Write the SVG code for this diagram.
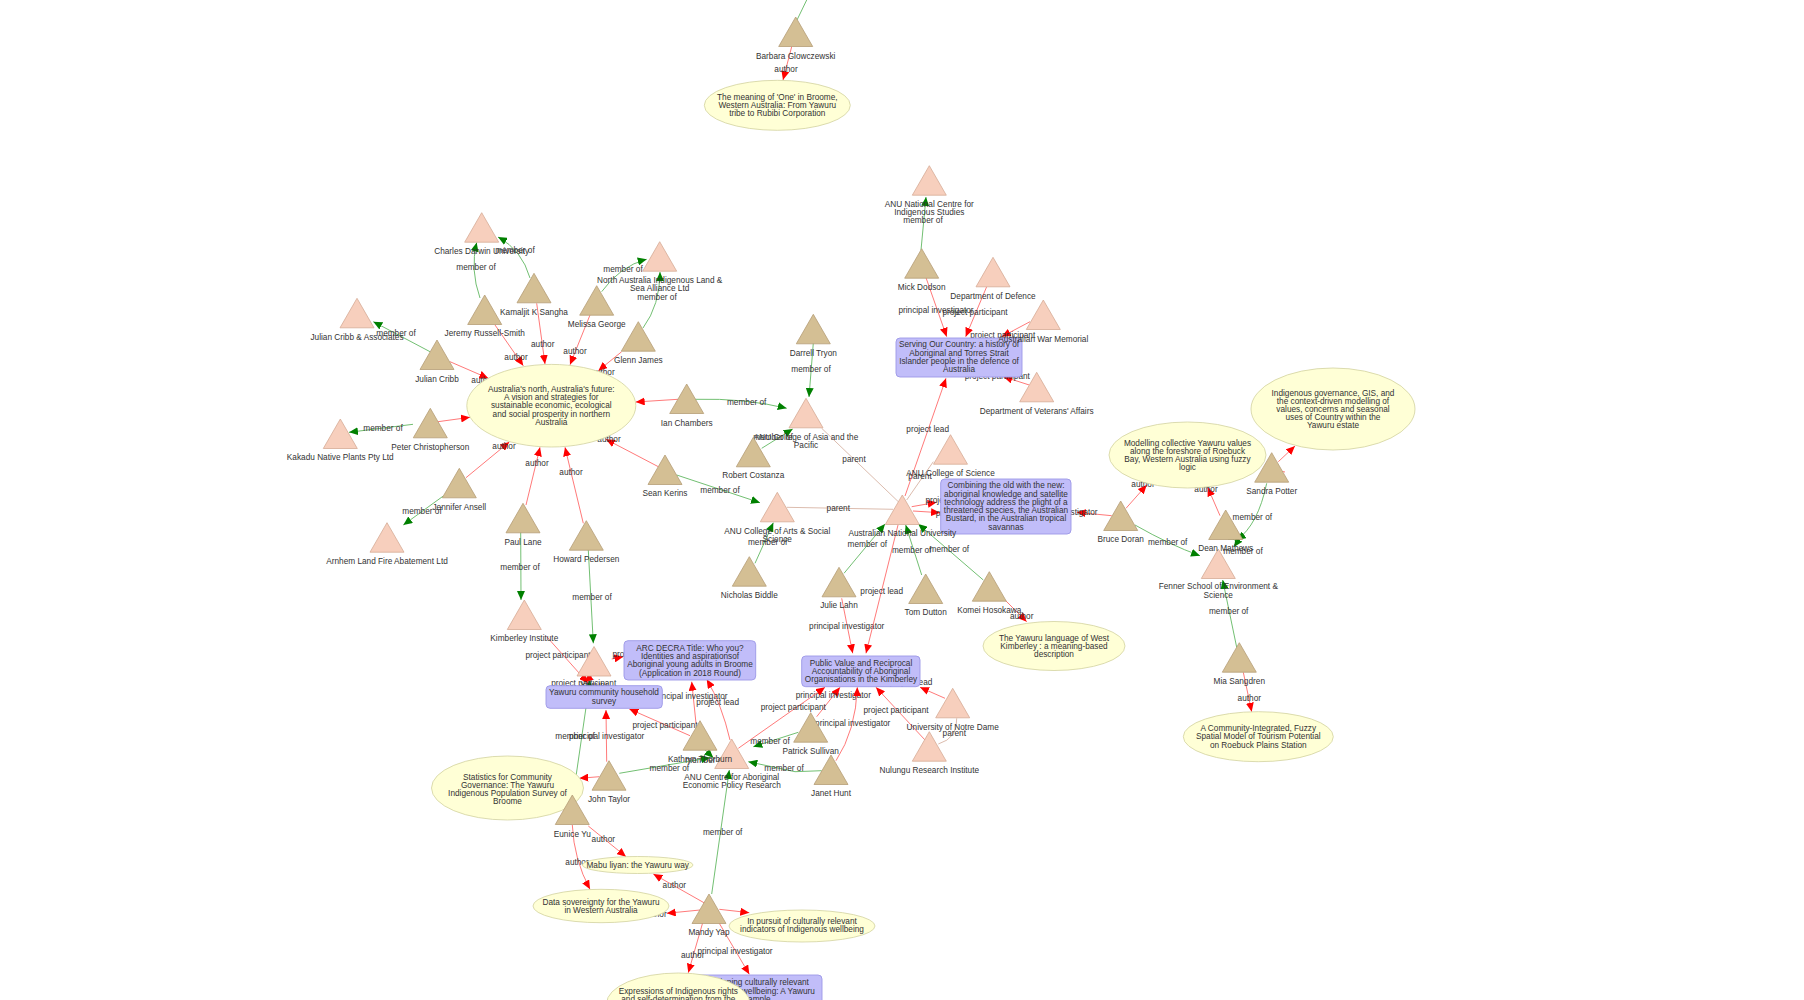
<svg xmlns="http://www.w3.org/2000/svg" xmlns:xlink="http://www.w3.org/1999/xlink" width="1804" height="1000" viewBox="0 0 1804 1000">
<style>
text{font-family:"Liberation Sans",Arial,sans-serif;font-size:8.25px;fill:#333;text-anchor:middle}
.r{fill:none;stroke:#ff6a6a;stroke-width:0.9;marker-end:url(#ar)}
.g{fill:none;stroke:#62b862;stroke-width:0.9;marker-end:url(#ag)}
.gn{fill:none;stroke:#62b862;stroke-width:0.9}
.pa{fill:none;stroke:#dcbcae;stroke-width:1}
.p{fill:#d4bf94;stroke:#b59d76;stroke-width:0.8}
.o{fill:#f7cfbd;stroke:#d6ab96;stroke-width:0.8}
.pub{fill:#ffffd6;stroke:#d2d2a0;stroke-width:0.8}
.prj{fill:#c1bdf9;stroke:#9c97e6;stroke-width:0.9}
</style>
<defs>
<polygon id="tri" points="0,0 -17,29.5 17,29.5"/>
<marker id="ar" markerWidth="10" markerHeight="8" refX="9" refY="4" orient="auto" markerUnits="userSpaceOnUse"><path d="M0,0 L9,4 L0,8 z" fill="#ff0000"/></marker>
<marker id="ag" markerWidth="10" markerHeight="8" refX="9" refY="4" orient="auto" markerUnits="userSpaceOnUse"><path d="M0,0 L9,4 L0,8 z" fill="#008000"/></marker>
</defs>
<rect width="1804" height="1000" fill="#fff"/>

<g id="connectors">
<!-- member of -->
<path class="gn" d="M797,20 L806.7,0"/>
<path class="g" d="M921,250 L926,197"/><text x="923" y="223">member of</text>
<path class="g" d="M813.3,343 L809,397"/><text x="811" y="372">member of</text>
<path class="g" d="M480,298 Q470,270 476.7,242.5"/><text x="476" y="270">member of</text>
<path class="g" d="M530,278 Q522,250 498,237"/><text x="515" y="253">member of</text>
<path class="g" d="M601.7,291.7 Q620,266 646.7,259.3"/><text x="623" y="272">member of</text>
<path class="g" d="M643,328 Q660,305 660,272"/><text x="657" y="300">member of</text>
<path class="g" d="M430,351.7 L373.3,321.7"/><text x="396" y="336">member of</text>
<path class="g" d="M413,424.3 L349,432.3"/><text x="383" y="431">member of</text>
<path class="g" d="M443.3,496 L403.3,525"/><text x="422" y="514">member of</text>
<path class="g" d="M520.7,532 L521,600"/><text x="520" y="570">member of</text>
<path class="g" d="M588.3,550 L593.3,643.3"/><text x="592" y="600">member of</text>
<path class="g" d="M695,399.3 Q745,398 786.7,408.3"/><text x="746.7" y="405">member of</text>
<path class="g" d="M761.7,448.3 L792.7,429"/><text x="773" y="440">member of</text>
<path class="g" d="M676.7,475 L760,502.7"/><text x="720" y="493">member of</text>
<path class="g" d="M755,563.3 L773.3,522.7"/><text x="767.7" y="545">member of</text>
<path class="g" d="M844,573.3 L885,524"/><text x="867.3" y="547">member of</text>
<path class="g" d="M921.7,575 L905.7,525"/><text x="911.7" y="553">member of</text>
<path class="g" d="M983.3,580 L918.3,524"/><text x="949.3" y="552">member of</text>
<path class="g" d="M1135,525 Q1170,545 1200,555.7"/><text x="1167.7" y="545">member of</text>
<path class="g" d="M1228,539 Q1240,538 1234,547"/><text x="1243" y="554">member of</text>
<path class="g" d="M1266.7,483.3 Q1258,525 1236.7,540"/><text x="1252.3" y="519.5">member of</text>
<path class="g" d="M1236.7,647.3 L1222.7,580"/><text x="1228.7" y="614">member of</text>
<path class="g" d="M573,797 L590,680"/><text x="575" y="738.5">member of</text>
<path class="g" d="M705,750 L713.3,757.7"/><text x="705" y="763">member of</text>
<path class="g" d="M619.3,773.3 L710,757.7"/><text x="669.3" y="771">member of</text>
<path class="g" d="M798.3,732.3 L753.3,746.7"/><text x="770" y="744">member of</text>
<path class="g" d="M821.7,770.7 L795,771.7 L748.3,761.7"/><text x="784" y="771">member of</text>
<path class="g" d="M711.7,894 L729.3,770"/><text x="722.7" y="834.5">member of</text>
<!-- parent -->
<path class="pa" d="M821.7,428.3 L898.3,501.7"/><text x="854" y="462">parent</text>
<path class="pa" d="M786.7,507.3 L893.3,509.3"/><text x="838.3" y="511">parent</text>
<path class="pa" d="M933.3,461.7 L906.7,500"/><text x="920" y="478.5">parent</text>
<path class="pa" d="M938.3,744 Q958,738 956.7,718.3"/><text x="954.3" y="735.5">parent</text>
<!-- author / project -->
<path class="r" d="M791.7,46.7 L783,80"/><text x="786" y="72">author</text>
<path class="r" d="M926,277.7 L946.7,336.7"/><text x="936" y="313">principal investigator</text>
<path class="r" d="M986.7,286.7 L965.7,336.7"/><text x="975" y="315">project participant</text>
<path class="r" d="M1030,321.7 L1001.7,336.7"/><text x="1002.7" y="338">project participant</text>
<path class="r" d="M1029.3,385 L1003.3,376.7"/><text x="997.3" y="378.5">project participant</text>
<path class="r" d="M905,496 L946,378.3"/><text x="927.7" y="432">project lead</text>
<path class="r" d="M495,325 L523.3,365.7"/><text x="516" y="360">author</text>
<path class="r" d="M536.7,303.3 L545,364"/><text x="542.7" y="347">author</text>
<path class="r" d="M590,315 L570,364.7"/><text x="575" y="354">author</text>
<path class="r" d="M621.7,351.7 L598.3,370.7"/><text x="603" y="375">author</text>
<path class="r" d="M450,361.7 L488.3,378.3"/><text x="483" y="383">author</text>
<path class="r" d="M438,421.7 L470,417.3"/>
<path class="r" d="M678,399.3 L635.7,402"/>
<path class="r" d="M658.3,466.7 L606,439.3"/><text x="609" y="442">author</text>
<path class="r" d="M466,477.7 L509.3,442"/><text x="504" y="449">author</text>
<path class="r" d="M526,505 L540,447.3"/><text x="537" y="466">author</text>
<path class="r" d="M583.3,523.3 L565,447.3"/><text x="571" y="475">author</text>
<path class="r" d="M1005,600 L1026.7,621.7"/><text x="1021.7" y="619">author</text>
<path class="r" d="M911.7,506.7 L936.7,502.3"/><text x="958" y="503">project participant</text>
<path class="r" d="M913,511 L940,512.7"/><text x="957" y="516">project lead</text>
<path class="r" d="M1111.7,515.7 L1076.7,512.3"/><text x="1060" y="514.5">principal investigator</text>
<path class="r" d="M1126,508.3 L1146.7,485"/><text x="1143" y="487">author</text>
<path class="r" d="M1220,515.7 L1207.7,487.3"/><text x="1206" y="492">author</text>
<path class="r" d="M1278.3,461.7 L1295,446"/>
<path class="r" d="M1285,472 L1268,468.5"/>
<path class="r" d="M1243.3,672.3 L1251.7,711.7"/><text x="1249.3" y="700.5">author</text>
<path class="r" d="M841.7,598.3 L852.7,653.3"/><text x="846.7" y="629">principal investigator</text>
<path class="r" d="M898,525 L866,653.3"/><text x="881.7" y="594">project lead</text>
<path class="r" d="M945,698.3 L920,687.3"/><text x="911" y="685">project lead</text>
<path class="r" d="M925,740 L876,687.3"/><text x="896" y="713">project participant</text>
<path class="r" d="M816.7,716.7 L840,687.3"/><text x="833.3" y="698">principal investigator</text>
<path class="r" d="M738.3,748.3 L825,687.3"/><text x="793.3" y="710">project participant</text>
<path class="r" d="M836,760.7 Q856,730 857.3,687.3"/><text x="852.7" y="726">principal investigator</text>
<path class="r" d="M546.7,636.7 L588,683"/><text x="558" y="658">project participant</text>
<path class="r" d="M611.7,659 L623.3,656.7"/><text x="645" y="657">project participant</text>
<path class="r" d="M592,676 L584,682"/><text x="583.7" y="686">project participant</text>
<path class="r" d="M696,723.3 L691.7,681.7"/><text x="690" y="699">principal investigator</text>
<path class="r" d="M690,735.7 L629.3,709"/><text x="665" y="728">project participant</text>
<path class="r" d="M730,740 Q722,705 706.7,679.3"/><text x="717.7" y="705">project lead</text>
<path class="r" d="M606.7,761.7 L606,710"/><text x="606.7" y="739">principal investigator</text>
<path class="r" d="M599.3,776.7 L579.3,778.3"/>
<path class="r" d="M588.3,826 L626,856.7"/><text x="603.3" y="842">author</text>
<path class="r" d="M572.3,825 Q574,860 590,889.3"/><text x="577" y="865">author</text>
<path class="r" d="M705,903.3 L653.3,874"/><text x="674.3" y="888">author</text>
<path class="r" d="M700,910 L666.7,913.3"/><text x="655" y="917">author</text>
<path class="r" d="M719.3,909.3 L749.3,912.7"/>
<path class="r" d="M702.7,922.7 L688.3,972.7"/><text x="692.7" y="958">author</text>
<path class="r" d="M719.3,923.3 L749.3,974.3"/><text x="735" y="954">principal investigator</text>
</g>

<g id="nodes">
<g id="prj-serving"><rect class="prj" x="896" y="338" width="126" height="39" rx="4"/>
<text x="959" y="347">Serving Our Country: a history of</text><text x="959" y="356">Aboriginal and Torres Strait</text><text x="959" y="364">Islander people in the defence of</text><text x="959" y="372">Australia</text></g>
<g id="prj-combining"><rect class="prj" x="940.7" y="479" width="130.3" height="55" rx="4"/>
<text x="1006" y="488.3">Combining the old with the new:</text><text x="1006" y="496.7">aboriginal knowledge and satellite</text><text x="1006" y="505">technology address the plight of a</text><text x="1006" y="513.3">threatened species, the Australian</text><text x="1006" y="521.3">Bustard, in the Australian tropical</text><text x="1006" y="529.7">savannas</text></g>
<g id="prj-arc"><rect class="prj" x="624" y="640.7" width="131.7" height="39.3" rx="4"/>
<text x="690" y="650.7">ARC DECRA Title: Who you?</text><text x="690" y="659">Identities and aspirationsof</text><text x="690" y="667">Aboriginal young adults in Broome</text><text x="690" y="675.7">(Application in 2018 Round)</text></g>
<g id="prj-public"><rect class="prj" x="801.7" y="656" width="118.3" height="30.7" rx="4"/>
<text x="861" y="666">Public Value and Reciprocal</text><text x="861" y="674">Accountability of Aboriginal</text><text x="861" y="682.3">Organisations in the Kimberley</text></g>
<g id="prj-indicators"><rect class="prj" x="688" y="975" width="134" height="40" rx="4"/>
<text x="755" y="985.3">Developing culturally relevant</text><text x="755" y="993.7">indicators of wellbeing: A Yawuru</text><text x="755" y="1002">example</text></g>

<g id="pub-meaning"><ellipse class="pub" cx="777.3" cy="105.3" rx="73" ry="25"/>
<text x="777.3" y="100">The meaning of 'One' in Broome,</text><text x="777.3" y="108">Western Australia: From Yawuru</text><text x="777.3" y="116">tribe to Rubibi Corporation</text></g>
<g id="pub-north"><ellipse class="pub" cx="551.3" cy="405.7" rx="84.5" ry="41.3"/>
<text x="551.3" y="392">Australia's north, Australia's future:</text><text x="551.3" y="400">A vision and strategies for</text><text x="551.3" y="408.3">sustainable economic, ecological</text><text x="551.3" y="416.7">and social prosperity in northern</text><text x="551.3" y="425">Australia</text></g>
<g id="pub-gis"><ellipse class="pub" cx="1333" cy="409" rx="82" ry="41"/>
<text x="1333" y="395.7">Indigenous governance, GIS, and</text><text x="1333" y="403.7">the context-driven modelling of</text><text x="1333" y="412">values, concerns and seasonal</text><text x="1333" y="420">uses of Country within the</text><text x="1333" y="428">Yawuru estate</text></g>
<g id="pub-modelling"><ellipse class="pub" cx="1187.5" cy="455" rx="78.5" ry="33"/>
<text x="1187.5" y="446">Modelling collective Yawuru values</text><text x="1187.5" y="454">along the foreshore of Roebuck</text><text x="1187.5" y="462.3">Bay, Western Australia using fuzzy</text><text x="1187.5" y="470.3">logic</text></g>
<g id="pub-language"><ellipse class="pub" cx="1054" cy="646" rx="71" ry="24.5"/>
<text x="1054" y="641.3">The Yawuru language of West</text><text x="1054" y="649.3">Kimberley : a meaning-based</text><text x="1054" y="657">description</text></g>
<g id="pub-tourism"><ellipse class="pub" cx="1258.3" cy="736.7" rx="75" ry="25"/>
<text x="1258.3" y="731.3">A Community-Integrated, Fuzzy</text><text x="1258.3" y="739.3">Spatial Model of Tourism Potential</text><text x="1258.3" y="748">on Roebuck Plains Station</text></g>
<g id="pub-statistics"><ellipse class="pub" cx="507.5" cy="788" rx="76" ry="32"/>
<text x="507.5" y="780.3">Statistics for Community</text><text x="507.5" y="788.3">Governance: The Yawuru</text><text x="507.5" y="796.3">Indigenous Population Survey of</text><text x="507.5" y="804.3">Broome</text></g>
<g id="pub-mabu"><ellipse class="pub" cx="637.7" cy="865" rx="55.3" ry="8.5"/>
<text x="637.7" y="868">Mabu liyan: the Yawuru way</text></g>
<g id="pub-sovereignty"><ellipse class="pub" cx="601" cy="906" rx="68" ry="16.7"/>
<text x="601" y="905">Data sovereignty for the Yawuru</text><text x="601" y="913">in Western Australia</text></g>
<g id="pub-pursuit"><ellipse class="pub" cx="802" cy="926" rx="73" ry="16"/>
<text x="802" y="924">In pursuit of culturally relevant</text><text x="802" y="932.3">indicators of Indigenous wellbeing</text></g>
<g id="pub-expressions"><ellipse class="pub" cx="678.3" cy="1003.5" rx="71.7" ry="30.5"/>
<text x="678.3" y="993.7">Expressions of Indigenous rights</text><text x="678.3" y="1002">and self-determination from the</text></g>

<g id="org-yawuru"><use xlink:href="#tri" class="o" x="594" y="646.5"/><text x="594" y="688">Yawuru</text></g>
<g id="prj-household"><rect class="prj" x="546" y="685.7" width="116.3" height="22.6" rx="4"/>
<text x="604" y="695.3">Yawuru community household</text><text x="604" y="704">survey</text></g>

<g id="org-ncis"><use xlink:href="#tri" class="o" x="929.3" y="165.7"/><text x="929.3" y="207">ANU National Centre for</text><text x="929.3" y="215">Indigenous Studies</text></g>
<g id="org-defence"><use xlink:href="#tri" class="o" x="993" y="257.3"/><text x="993" y="299">Department of Defence</text></g>
<g id="org-awm"><use xlink:href="#tri" class="o" x="1043.3" y="300"/><text x="1043.3" y="342">Australian War Memorial</text></g>
<g id="org-dva"><use xlink:href="#tri" class="o" x="1036.7" y="372.3"/><text x="1036.7" y="413.7">Department of Veterans' Affairs</text></g>
<g id="org-cdu"><use xlink:href="#tri" class="o" x="481.7" y="212.7"/><text x="481.7" y="254">Charles Darwin University</text></g>
<g id="org-nailsma"><use xlink:href="#tri" class="o" x="659.7" y="241.7"/><text x="659.7" y="283">North Australia Indigenous Land &amp;</text><text x="659.7" y="291.3">Sea Alliance Ltd</text></g>
<g id="org-jca"><use xlink:href="#tri" class="o" x="357" y="298.3"/><text x="357" y="340">Julian Cribb &amp; Associates</text></g>
<g id="org-kakadu"><use xlink:href="#tri" class="o" x="340.3" y="419"/><text x="340.3" y="460">Kakadu Native Plants Pty Ltd</text></g>
<g id="org-arnhem"><use xlink:href="#tri" class="o" x="387" y="522.7"/><text x="387" y="564">Arnhem Land Fire Abatement Ltd</text></g>
<g id="org-asia"><use xlink:href="#tri" class="o" x="806" y="398.3"/><text x="806" y="440">ANU College of Asia and the</text><text x="806" y="447.7">Pacific</text></g>
<g id="org-arts"><use xlink:href="#tri" class="o" x="777.3" y="492.3"/><text x="777.3" y="534">ANU College of Arts &amp; Social</text><text x="777.3" y="542">Science</text></g>
<g id="org-anu"><use xlink:href="#tri" class="o" x="902.3" y="495"/><text x="902.3" y="536.3">Australian National University</text></g>
<g id="org-science"><use xlink:href="#tri" class="o" x="950.5" y="434.7"/><text x="950.5" y="476.3">ANU College of Science</text></g>
<g id="org-fenner"><use xlink:href="#tri" class="o" x="1218.3" y="549"/><text x="1218.3" y="589">Fenner School of Environment &amp;</text><text x="1218.3" y="597.7">Science</text></g>
<g id="org-kimberley"><use xlink:href="#tri" class="o" x="524.3" y="600"/><text x="524.3" y="641.3">Kimberley Institute</text></g>
<g id="org-caepr"><use xlink:href="#tri" class="o" x="731.7" y="739"/><text x="731.7" y="780.3">ANU Centre for Aboriginal</text><text x="731.7" y="788">Economic Policy Research</text></g>
<g id="org-notredame"><use xlink:href="#tri" class="o" x="952.7" y="688.3"/><text x="952.7" y="730">University of Notre Dame</text></g>
<g id="org-nulungu"><use xlink:href="#tri" class="o" x="929.3" y="731.7"/><text x="929.3" y="773">Nulungu Research Institute</text></g>

<g id="per-barbara"><use xlink:href="#tri" class="p" x="795.7" y="17"/><text x="795.7" y="59">Barbara Glowczewski</text></g>
<g id="per-mick"><use xlink:href="#tri" class="p" x="921.7" y="248.7"/><text x="921.7" y="290">Mick Dodson</text></g>
<g id="per-darrell"><use xlink:href="#tri" class="p" x="813.3" y="314.3"/><text x="813.3" y="356">Darrell Tryon</text></g>
<g id="per-kamaljit"><use xlink:href="#tri" class="p" x="534" y="273.3"/><text x="534" y="315">Kamaljit K Sangha</text></g>
<g id="per-jeremy"><use xlink:href="#tri" class="p" x="484.7" y="295"/><text x="484.7" y="336.3">Jeremy Russell-Smith</text></g>
<g id="per-melissa"><use xlink:href="#tri" class="p" x="596.7" y="285.7"/><text x="596.7" y="327.3">Melissa George</text></g>
<g id="per-glenn"><use xlink:href="#tri" class="p" x="638.3" y="321.7"/><text x="638.3" y="363">Glenn James</text></g>
<g id="per-julian"><use xlink:href="#tri" class="p" x="437" y="340"/><text x="437" y="382">Julian Cribb</text></g>
<g id="per-peter"><use xlink:href="#tri" class="p" x="430.3" y="408.3"/><text x="430.3" y="450">Peter Christopherson</text></g>
<g id="per-ian"><use xlink:href="#tri" class="p" x="686.7" y="384"/><text x="686.7" y="426">Ian Chambers</text></g>
<g id="per-sean"><use xlink:href="#tri" class="p" x="665" y="455"/><text x="665" y="496">Sean Kerins</text></g>
<g id="per-jennifer"><use xlink:href="#tri" class="p" x="459.3" y="468.3"/><text x="459.3" y="510">Jennifer Ansell</text></g>
<g id="per-paul"><use xlink:href="#tri" class="p" x="523" y="503.3"/><text x="523" y="545">Paul Lane</text></g>
<g id="per-howard"><use xlink:href="#tri" class="p" x="586.3" y="520.7"/><text x="586.3" y="562">Howard Pedersen</text></g>
<g id="per-robert"><use xlink:href="#tri" class="p" x="753.3" y="437.3"/><text x="753.3" y="478">Robert Costanza</text></g>
<g id="per-nicholas"><use xlink:href="#tri" class="p" x="749.3" y="556.7"/><text x="749.3" y="598">Nicholas Biddle</text></g>
<g id="per-julie"><use xlink:href="#tri" class="p" x="839" y="567.3"/><text x="839" y="608">Julie Lahn</text></g>
<g id="per-tom"><use xlink:href="#tri" class="p" x="925.7" y="574"/><text x="925.7" y="615">Tom Dutton</text></g>
<g id="per-komei"><use xlink:href="#tri" class="p" x="989.3" y="571.7"/><text x="989.3" y="613">Komei Hosokawa</text></g>
<g id="per-bruce"><use xlink:href="#tri" class="p" x="1120.7" y="501"/><text x="1120.7" y="542">Bruce Doran</text></g>
<g id="per-dean"><use xlink:href="#tri" class="p" x="1225.7" y="510"/><text x="1225.7" y="551.3">Dean Mathews</text></g>
<g id="per-sandra"><use xlink:href="#tri" class="p" x="1271.7" y="452.7"/><text x="1271.7" y="494">Sandra Potter</text></g>
<g id="per-mia"><use xlink:href="#tri" class="p" x="1239.3" y="642.7"/><text x="1239.3" y="684">Mia Sangdren</text></g>
<g id="per-kathryn"><use xlink:href="#tri" class="p" x="700" y="720.7"/><text x="700" y="762.3">Kathryn Thorburn</text></g>
<g id="per-john"><use xlink:href="#tri" class="p" x="609" y="760.7"/><text x="609" y="802">John Taylor</text></g>
<g id="per-patrick"><use xlink:href="#tri" class="p" x="810.7" y="712.7"/><text x="810.7" y="754">Patrick Sullivan</text></g>
<g id="per-janet"><use xlink:href="#tri" class="p" x="831" y="755"/><text x="831" y="795.7">Janet Hunt</text></g>
<g id="per-eunice"><use xlink:href="#tri" class="p" x="572.3" y="795"/><text x="572.3" y="837.3">Eunice Yu</text></g>
<g id="per-mandy"><use xlink:href="#tri" class="p" x="709" y="894"/><text x="709" y="935.3">Mandy Yap</text></g>
</g>
</svg>
